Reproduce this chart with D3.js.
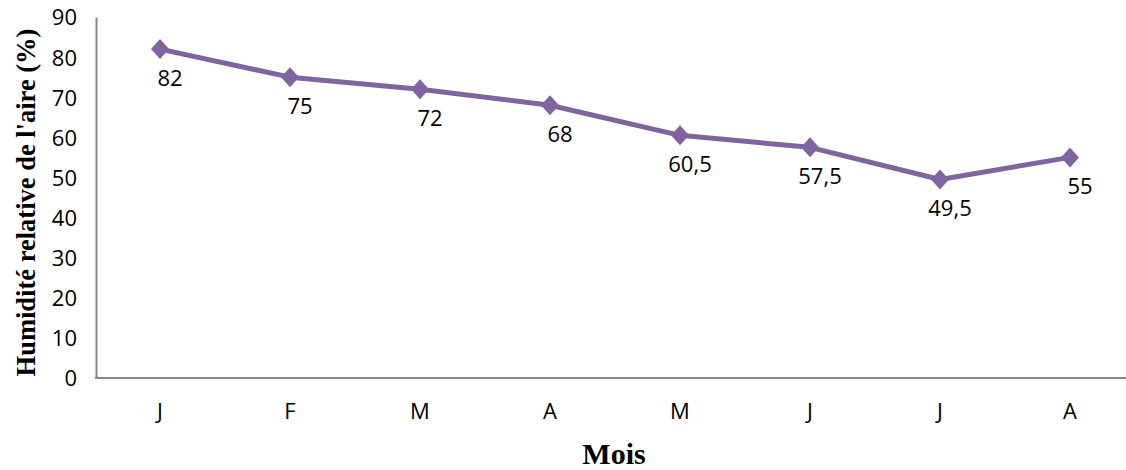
<!DOCTYPE html>
<html>
<head>
<meta charset="utf-8">
<script src="https://cdn.jsdelivr.net/npm/d3@7"></script>
<style>
  html, body { margin: 0; padding: 0; background: #fff; }
  svg { display: block; }
</style>
</head>
<body>
<svg id="chart" width="1126" height="470"></svg>
<script>
const months = ["J", "F", "M", "A", "M", "J", "J", "A"];
const humidity = [82, 75, 72, 68, 60.5, 57.5, 49.5, 55];
const yTicks = [0, 10, 20, 30, 40, 50, 60, 70, 80, 90];
const yTitle = "Humidité relative de l'aire (%)";
const xTitle = "Mois";

(function () {
const svg = d3.select("#chart");
const W = 1126, H = 470;
const mLeft = 96, mTop = 17, mBottom = 378;

const idx = months.map((m, i) => i);
const x = d3.scaleBand().domain(idx).range([95, 1135]).paddingInner(0).paddingOuter(0);
const xc = i => x(i) + x.bandwidth() / 2;
const y = d3.scaleLinear().domain([0, 90]).range([mBottom, mTop]);

const labelFont = "'Open Sans', 'Liberation Sans', sans-serif";
const fs = 22;
const axisColor = "#898989";

// Y axis
const yAxis = svg.append("g")
  .attr("transform", `translate(${mLeft},0)`)
  .call(d3.axisLeft(y).tickValues(yTicks).tickSize(0).tickPadding(19).tickFormat(d3.format("d")));
yAxis.select(".domain").attr("stroke", axisColor).attr("stroke-width", 2);
yAxis.selectAll("text")
  .attr("font-family", labelFont).attr("font-size", fs).attr("fill", "#000")
  .attr("dy", "0.36em");

// X axis
const xAxis = svg.append("g")
  .attr("transform", `translate(0,${mBottom})`)
  .call(d3.axisBottom(x).tickSize(0).tickPadding(25).tickFormat(i => months[i]));
xAxis.select(".domain").attr("stroke", axisColor).attr("stroke-width", 2)
  .attr("d", `M${mLeft - 1},0H${W + 20}`);
xAxis.selectAll("text")
  .attr("font-family", labelFont).attr("font-size", fs).attr("fill", "#000");

// Line
const color = "#8064A2";
const line = d3.line().x((d, i) => xc(i)).y(d => y(d));
svg.append("path")
  .datum(humidity)
  .attr("d", line)
  .attr("fill", "none")
  .attr("stroke", color)
  .attr("stroke-width", 5)
  .attr("stroke-linejoin", "round");

// Markers
const diamond = "M0,-10L9,0L0,10L-9,0Z";
svg.selectAll("path.marker")
  .data(humidity)
  .join("path")
  .attr("class", "marker")
  .attr("d", diamond)
  .attr("transform", (d, i) => `translate(${xc(i)},${y(d)})`)
  .attr("fill", color);

// Data labels
const fmt = v => String(v).replace(".", ",");
svg.selectAll("text.dlabel")
  .data(humidity)
  .join("text")
  .attr("class", "dlabel")
  .attr("x", (d, i) => xc(i) + 10)
  .attr("y", d => y(d) + 37)
  .attr("text-anchor", "middle")
  .attr("font-family", labelFont)
  .attr("font-size", fs)
  .attr("fill", "#000")
  .text(d => fmt(d));

// Axis titles
svg.append("text")
  .attr("transform", `translate(35,${(mTop + mBottom) / 2 + 5}) rotate(-90)`)
  .attr("text-anchor", "middle")
  .attr("font-family", "'Liberation Serif', 'Times New Roman', serif")
  .attr("font-weight", "bold")
  .attr("font-size", 26.5)
  .attr("fill", "#000")
  .text(yTitle);

svg.append("text")
  .attr("x", 614)
  .attr("y", 464)
  .attr("text-anchor", "middle")
  .attr("font-family", "'Liberation Serif', 'Times New Roman', serif")
  .attr("font-weight", "bold")
  .attr("font-size", 30)
  .attr("fill", "#000")
  .text(xTitle);
})();
</script>
</body>
</html>
